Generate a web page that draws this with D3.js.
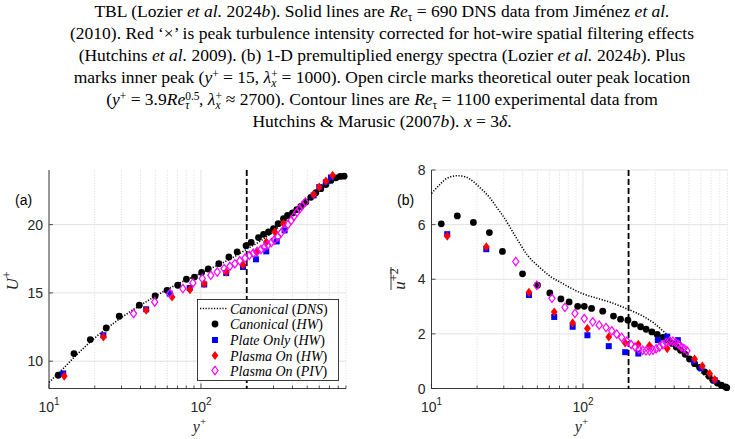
<!DOCTYPE html>
<html>
<head>
<meta charset="utf-8">
<script src="https://cdn.jsdelivr.net/npm/d3@7"></script>
<style>
body { margin: 0; background: #fff; }
svg { display: block; }
text { white-space: pre; }
</style>
</head>
<body>
<div id="graph"></div>
<script>
// values
var xMajor = [10, 100]
var xMinor = [20, 30, 40, 50, 60, 70, 80, 90, 200, 300, 400, 500, 600, 700, 800, 900]
var uTicks = [10, 15, 20]
var uuTicks = [0, 2, 4, 6, 8]
var vline = 200

// (a) mean velocity
var dnsYa = [10, 12, 15, 20, 25, 30, 40, 50, 60, 80, 100, 130, 160, 200, 250, 300, 350, 400, 450, 500, 550, 600, 650, 700]
var dnsU  = [8.45, 9.3, 10.4, 11.7, 12.55, 13.2, 14.1, 14.75, 15.25, 15.95, 16.45, 17.05, 17.55, 18.2, 18.85, 19.5, 20.15, 20.75, 21.3, 21.8, 22.3, 22.7, 23.05, 23.35]

var canonYa = [11.5, 14.6, 18.7, 23.8, 29, 39.3, 49.9, 59.8, 70.3, 80.2, 90.6, 101, 111.6, 131, 152.6, 173, 198, 214, 239, 258, 278, 300, 322, 349, 371, 400, 427, 454, 490, 528, 570, 615, 664, 716, 773, 825, 875]
var canonU  = [8.97, 10.56, 11.58, 12.43, 13.29, 14.1, 14.78, 15.19, 15.56, 16.0, 16.16, 16.5, 16.75, 17.14, 17.63, 18.0, 18.46, 18.7, 19.05, 19.29, 19.46, 19.7, 20.07, 20.43, 20.68, 20.85, 21.1, 21.33, 21.65, 22.0, 22.34, 22.63, 22.94, 23.24, 23.43, 23.53, 23.55]

var plateYa = [12.4, 22.8, 43.6, 62.2, 84.3, 105, 146.6, 189, 230, 269, 315, 355, 551, 600, 664, 716]
var plateU  = [9.1, 11.9, 13.8, 14.95, 15.36, 15.62, 16.45, 16.9, 17.46, 18.04, 18.77, 19.58, 22.14, 22.75, 23.11, 23.45]

var plasmaYa = [12.6, 22.8, 43.6, 64.5, 84.5, 105, 146.6, 189, 232, 269, 306, 349, 551, 600, 664, 735]
var plasmaU  = [8.9, 11.78, 13.73, 14.7, 15.24, 15.68, 16.53, 17.05, 18.0, 18.72, 19.46, 20.07, 22.2, 22.75, 23.19, 23.6]

var pivY = [36, 49.6, 62.4, 76, 88.5, 102, 116, 128, 142, 155, 167, 180, 195, 208, 221, 234, 248, 261, 275, 290, 304, 320, 337, 355, 373, 392, 409, 428, 446, 464, 486]
var pivU = [13.49, 14.34, 14.95, 15.32, 15.73, 16.05, 16.29, 16.53, 16.78, 16.95, 17.14, 17.35, 17.55, 17.75, 17.9, 18.03, 18.18, 18.35, 18.5, 18.68, 18.87, 19.1, 19.4, 19.7, 20.0, 20.3, 20.6, 20.9, 21.15, 21.4, 21.65]

// (b) variance
var dnsYb = [10, 11.5, 12.6, 14.8, 16.8, 18.9, 21.1, 24, 27.3, 29.4, 36, 43, 52.6, 61, 71.5, 83, 101.6, 124.7, 153, 198, 229, 254, 296, 354, 400, 450, 520, 600, 690]
var dnsUU = [7.14, 7.5, 7.69, 7.79, 7.75, 7.57, 7.33, 7.02, 6.59, 6.35, 5.55, 4.88, 4.4, 4.1, 3.88, 3.68, 3.45, 3.3, 3.15, 2.9, 2.75, 2.62, 2.38, 2.0, 1.7, 1.4, 1.0, 0.62, 0.3]

var canonYb = [11.6, 14.8, 18.9, 24.1, 29.4, 39.9, 50.1, 60.4, 71.5, 81, 92.3, 102, 114, 135, 159, 177, 198, 219, 240, 261, 285, 309, 337, 364, 387, 413, 441, 473, 505, 546, 589, 636, 680, 722, 771, 820, 871, 890]
var canonUU = [6.03, 6.32, 6.08, 5.71, 5.02, 4.2, 3.78, 3.5, 3.28, 3.17, 3.01, 3.01, 2.93, 2.83, 2.65, 2.54, 2.5, 2.36, 2.26, 2.17, 2.07, 1.98, 1.87, 1.77, 1.65, 1.52, 1.4, 1.25, 1.08, 0.91, 0.77, 0.61, 0.45, 0.3, 0.2, 0.12, 0.06, 0.03]

var plateYb = [12.7, 23, 44, 64.6, 85.5, 107, 148, 190, 232, 312, 360, 423, 540, 604, 741]
var plateUU = [5.65, 5.1, 3.42, 2.62, 2.26, 1.95, 1.55, 1.33, 1.28, 1.77, 1.9, 1.77, 1.0, 0.74, 0.3]

var plasmaYb = [12.7, 23, 44, 64.6, 85.5, 107, 148, 190, 232, 275, 360, 546, 614, 686, 741]
var plasmaUU = [5.58, 5.19, 3.52, 2.8, 2.4, 2.2, 1.89, 1.67, 1.62, 1.57, 1.46, 1.08, 0.82, 0.55, 0.33]

var pivUU = [4.65, 3.78, 3.3, 2.97, 2.75, 2.56, 2.44, 2.32, 2.23, 2.11, 1.99, 1.87, 1.73, 1.61, 1.52, 1.44, 1.4, 1.38, 1.38, 1.4, 1.45, 1.52, 1.61, 1.68, 1.73, 1.73, 1.68, 1.61, 1.52, 1.46, 1.38]

var legendNames = [['Canonical', 'DNS'], ['Canonical', 'HW'], ['Plate Only', 'HW'], ['Plasma On', 'HW'], ['Plasma On', 'PIV']]

var caption = [
  [['TBL (Lozier ', ''], ['et al.', 'i'], [' 2024', ''], ['b', 'i'], ['). Solid lines are ', ''], ['Re', 'i'], ['τ', '_'], [' = 690 DNS data from Jiménez ', ''], ['et al.', 'i']],
  [['(2010). Red ‘×’ is peak turbulence intensity corrected for hot-wire spatial filtering effects', '']],
  [['(Hutchins ', ''], ['et al.', 'i'], [' 2009). (b) 1-D premultiplied energy spectra (Lozier ', ''], ['et al.', 'i'], [' 2024', ''], ['b', 'i'], ['). Plus', '']],
  [['marks inner peak (', ''], ['y', 'i'], ['+', '^'], [' = 15, ', ''], ['λ', 'i'], ['+', '^', 'x'], [' = 1000). Open circle marks theoretical outer peak location', '']],
  [['(', ''], ['y', 'i'], ['+', '^'], [' = 3.9', ''], ['Re', 'i'], ['0.5', '^', 'τ'], [', ', ''], ['λ', 'i'], ['+', '^', 'x'], [' ≈ 2700). Contour lines are ', ''], ['Re', 'i'], ['τ', '_'], [' = 1100 experimental data from', '']],
  [['Hutchins & Marusic (2007', ''], ['b', 'i'], ['). ', ''], ['x', 'i'], [' = 3', ''], ['δ', 'i'], ['.', '']]
]

var W = 735, H = 439
var svg = d3.select('#graph').append('svg').attr('width', W).attr('height', H)

var serif = '"Liberation Serif", "Times New Roman", serif'
var sans = '"Liberation Sans", Arial, Helvetica, sans-serif'
var axisCol = '#262626'

// caption
var mctx = document.createElement('canvas').getContext('2d')
function tw(s, size) { mctx.font = size + 'px "Liberation Serif"'; return mctx.measureText(s).width }

caption.forEach((parts, li) => {
  var t = svg.append('text')
    .attr('x', 382).attr('y', 17 + li*22)
    .attr('text-anchor', 'middle')
    .style('font-family', serif).style('font-size', '17.5px').attr('fill', '#000')
  var shift = 0, pad = 0
  parts.forEach(p => {
    var [s, st, sub] = p
    if (st == '' || st == 'i') {
      t.append('tspan').text(s).attr('dy', -shift).attr('dx', pad)
        .style('font-style', st == 'i' ? 'italic' : 'normal')
      shift = 0; pad = 0
    } else if (st == '^') {
      t.append('tspan').text(s).attr('dy', -5.5 - shift).style('font-size', '11.5px')
      shift = -5.5
      if (sub) {
        var w1 = tw(s, 11.5), w2 = tw(sub, 11.5)
        t.append('tspan').text(sub).attr('dx', -w1).attr('dy', 9)
          .style('font-size', '11.5px').style('font-style', 'italic')
        shift = 3.5
        pad = Math.max(0, w1 - w2)
      }
    } else if (st == '_') {
      t.append('tspan').text(s).attr('dy', 3.5 - shift).style('font-size', '11.5px')
      shift = 3.5
    }
  })
})

function panel(o) {
  var x = d3.scaleLog().domain([10, 900]).range(o.xr)
  var y = d3.scaleLinear().domain(o.yd).range([388.5, 170])
  var g = svg.append('g')

  // grid
  g.selectAll('.minor').data(xMinor).join('line')
    .attr('x1', d => x(d)).attr('x2', d => x(d)).attr('y1', 170).attr('y2', 388.5)
    .attr('stroke', '#cfcfcf').attr('stroke-width', 0.7).attr('stroke-dasharray', '1,1.6')
  g.selectAll('.major').data(xMajor).join('line')
    .attr('x1', d => x(d)).attr('x2', d => x(d)).attr('y1', 170).attr('y2', 388.5)
    .attr('stroke', '#e3e3e3').attr('stroke-width', 1)
  g.selectAll('.hgrid').data(o.ticks).join('line')
    .attr('x1', o.xr[0]).attr('x2', o.xr[1]).attr('y1', d => y(d)).attr('y2', d => y(d))
    .attr('stroke', '#e3e3e3').attr('stroke-width', 1)

  // axes
  g.append('line').attr('x1', o.xr[0]).attr('x2', o.xr[0]).attr('y1', 170).attr('y2', 388.5)
    .attr('stroke', axisCol).attr('stroke-width', 0.9)
  g.append('line').attr('x1', o.xr[0]).attr('x2', o.xr[1]).attr('y1', 388.5).attr('y2', 388.5)
    .attr('stroke', axisCol).attr('stroke-width', 0.9)
  g.selectAll('.xt').data(xMajor.concat(xMinor)).join('line')
    .attr('x1', d => x(d)).attr('x2', d => x(d)).attr('y1', 388.5)
    .attr('y2', d => xMajor.includes(d) ? 383.5 : 385.5)
    .attr('stroke', axisCol).attr('stroke-width', 0.8)
  g.selectAll('.yt').data(o.ticks).join('line')
    .attr('x1', o.xr[0]).attr('x2', o.xr[0] + 4).attr('y1', d => y(d)).attr('y2', d => y(d))
    .attr('stroke', axisCol).attr('stroke-width', 0.8)

  // tick labels
  g.selectAll('.ytl').data(o.ticks).join('text')
    .attr('x', o.xr[0] - 6).attr('y', d => y(d) + 5)
    .attr('text-anchor', 'end').style('font-family', sans).style('font-size', '14px')
    .attr('fill', axisCol).text(d => d)
  xMajor.forEach(d => {
    var t = g.append('text').attr('x', x(d)).attr('y', 412)
      .attr('text-anchor', 'middle').style('font-family', sans).style('font-size', '14px').attr('fill', axisCol)
    t.append('tspan').text('10')
    t.append('tspan').text(Math.log10(d)).style('font-size', '10px').attr('dy', -7)
  })

  // axis labels
  var xl = g.append('text').attr('x', (o.xr[0] + o.xr[1])/2 + 2).attr('y', 432)
    .attr('text-anchor', 'middle').style('font-family', serif).style('font-size', '16px').attr('fill', axisCol)
  xl.append('tspan').text('y').style('font-style', 'italic')
  xl.append('tspan').text('+').style('font-size', '11px').attr('dy', -7)

  g.append('text').attr('x', o.lab[0]).attr('y', o.lab[1])
    .style('font-family', sans).style('font-size', '14px').attr('fill', '#000').text(o.name)

  // vertical dashed line at y+ = 200
  g.append('line').attr('x1', x(vline)).attr('x2', x(vline)).attr('y1', 170).attr('y2', 388.5)
    .attr('stroke', '#000').attr('stroke-width', 1.8).attr('stroke-dasharray', '6,3')

  // DNS
  var line = d3.line().x(d => x(d[0])).y(d => y(d[1])).curve(d3.curveMonotoneX)
  g.append('path').attr('d', line(d3.zip(o.dns[0], o.dns[1])))
    .attr('fill', 'none').attr('stroke', '#000').attr('stroke-width', 1.6).attr('stroke-dasharray', '1.2,1.6')

  g.selectAll('.canon').data(d3.zip(o.canon[0], o.canon[1])).join('circle')
    .attr('cx', d => x(d[0])).attr('cy', d => y(d[1])).attr('r', 3.4).attr('fill', '#000')
  g.selectAll('.plate').data(d3.zip(o.plate[0], o.plate[1])).join('rect')
    .attr('x', d => x(d[0]) - 3).attr('y', d => y(d[1]) - 3).attr('width', 6).attr('height', 6).attr('fill', '#0000ff')
  g.selectAll('.plasma').data(d3.zip(o.plasma[0], o.plasma[1])).join('path')
    .attr('transform', d => `translate(${x(d[0])},${y(d[1])})`)
    .attr('d', 'M0,-4.6L3.4,0L0,4.6L-3.4,0Z').attr('fill', '#ff0000')
  g.selectAll('.piv').data(d3.zip(pivY, o.piv)).join('path')
    .attr('transform', d => `translate(${x(d[0])},${y(d[1])})`)
    .attr('d', 'M0,-4.2L3.1,0L0,4.2L-3.1,0Z').attr('fill', 'none').attr('stroke', '#ff00ff').attr('stroke-width', 1.2)

  return g
}

var ga = panel({
  xr: [49, 346], yd: [8, 24], ticks: uTicks, name: '(a)', lab: [15, 205],
  dns: [dnsYa, dnsU], canon: [canonYa, canonU], plate: [plateYa, plateU],
  plasma: [plasmaYa, plasmaU], piv: pivU
})
var gb = panel({
  xr: [431.5, 727.5], yd: [0, 8], ticks: uuTicks, name: '(b)', lab: [397, 205],
  dns: [dnsYb, dnsUU], canon: [canonYb, canonUU], plate: [plateYb, plateUU],
  plasma: [plasmaYb, plasmaUU], piv: pivUU
})

// y labels
var ul = svg.append('text').attr('transform', 'translate(18,281) rotate(-90)')
  .attr('text-anchor', 'middle').style('font-family', serif).style('font-size', '17px').attr('fill', axisCol)
ul.append('tspan').text('U').style('font-style', 'italic')
ul.append('tspan').text('+').style('font-size', '12px').attr('dy', -7)

var vl = svg.append('g').attr('transform', 'translate(405,279) rotate(-90)')
var vt = vl.append('text').attr('text-anchor', 'middle')
  .style('font-family', serif).style('font-size', '17px').attr('fill', axisCol)
vt.append('tspan').text('u').style('font-style', 'italic')
vt.append('tspan').text('+2').style('font-size', '12px').attr('dy', -7)
vl.append('line').attr('x1', -11).attr('x2', 12).attr('y1', -14).attr('y2', -14)
  .attr('stroke', axisCol).attr('stroke-width', 0.9)

// legend
var lg = svg.append('g')
lg.append('rect').attr('x', 197.5).attr('y', 299.5).attr('width', 141).attr('height', 81)
  .attr('fill', '#fff').attr('stroke', axisCol).attr('stroke-width', 0.9)
var rows = [308.5, 324, 340, 355.5, 370.5]
lg.append('line').attr('x1', 200).attr('x2', 228).attr('y1', rows[0]).attr('y2', rows[0])
  .attr('stroke', '#000').attr('stroke-width', 1.6).attr('stroke-dasharray', '1.2,1.6')
lg.append('circle').attr('cx', 215).attr('cy', rows[1]).attr('r', 3.4).attr('fill', '#000')
lg.append('rect').attr('x', 212).attr('y', rows[2] - 3).attr('width', 6).attr('height', 6).attr('fill', '#0000ff')
lg.append('path').attr('transform', `translate(215,${rows[3]})`).attr('d', 'M0,-4.6L3.4,0L0,4.6L-3.4,0Z').attr('fill', '#ff0000')
lg.append('path').attr('transform', `translate(215,${rows[4]})`).attr('d', 'M0,-4.2L3.1,0L0,4.2L-3.1,0Z')
  .attr('fill', 'none').attr('stroke', '#ff00ff').attr('stroke-width', 1.2)
legendNames.forEach((n, i) => {
  var t = lg.append('text').attr('x', 230).attr('y', rows[i] + 5)
    .style('font-family', serif).style('font-size', '14px').attr('fill', '#000')
  t.append('tspan').text(n[0] + ' ').style('font-style', 'italic')
  t.append('tspan').text('(')
  t.append('tspan').text(n[1]).style('font-style', 'italic')
  t.append('tspan').text(')')
})
</script>
</body>
</html>
